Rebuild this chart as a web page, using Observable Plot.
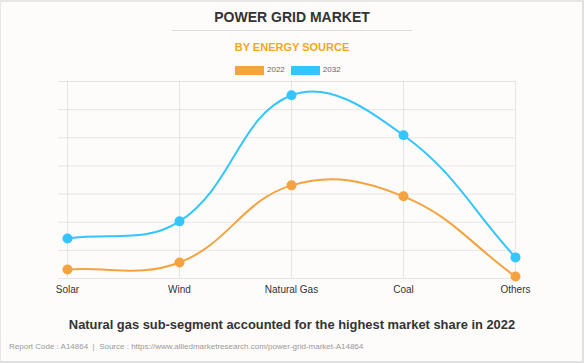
<!DOCTYPE html>
<html>
<head>
<meta charset="utf-8">
<script src="https://cdn.jsdelivr.net/npm/d3@7"></script>
<script src="https://cdn.jsdelivr.net/npm/@observablehq/plot@0.6"></script>
<style>
  html, body { margin: 0; padding: 0; background: #fff; }
  #frame { position: relative; width: 584px; height: 363px; background: #fdfcfb;
    font-family: "Liberation Sans", Arial, sans-serif; overflow: hidden; }
  #border { position: absolute; left: 0; top: 0; width: 584px; height: 363px; box-sizing: border-box;
    border-top: 2px solid #e6e6e6; border-left: 1px solid #e6e6e6; border-right: 2px solid #e0e0e0; border-bottom: 2px solid #e0e0e0; pointer-events: none; }
  .abs { position: absolute; }
  #title { left: 0; width: 584px; top: 9px; text-align: center; font-weight: bold; font-size: 14px; color: #333; line-height: 16px; }
  #rule { left: 172px; width: 240px; top: 30px; height: 1px; background: #dcdcdc; }
  #subtitle { left: 0; width: 584px; top: 41px; text-align: center; font-weight: bold; font-size: 11px; color: #f6a623; line-height: 13px; }
  #legend { left: 235px; top: 65px; display: flex; gap: 6px; font-size: 8px; color: #666; line-height: 10px; }
  .item { display: flex; align-items: center; gap: 3px; }
  .sw { width: 29px; height: 9px; }
  #chart { left: 0; top: 72px; }
  #caption { left: 0; width: 584px; top: 317px; text-align: center; font-weight: bold; font-size: 12.9px; color: #333; line-height: 16px; }
  #footer { left: 9px; top: 342px; font-size: 8px; color: #999; line-height: 10px; }
</style>
</head>
<body>
<div id="frame">
  <div id="title" class="abs">POWER GRID MARKET</div>
  <div id="rule" class="abs"></div>
  <div id="subtitle" class="abs">BY ENERGY SOURCE</div>
  <div id="legend" class="abs"></div>
  <div id="chart" class="abs"></div>
  <div id="caption" class="abs">Natural gas sub-segment accounted for the highest market share in 2022</div>
  <div id="footer" class="abs">Report Code : A14864&nbsp; |&nbsp; Source : https://www.alliedmarketresearch.com/power-grid-market-A14864</div>
  <div id="border"></div>
</div>
<script>
const categories = ["Solar", "Wind", "Natural Gas", "Coal", "Others"];
const years = ["2022", "2032"];
const values2022 = [3.2, 5.7, 33.1, 29.2, 0.7];
const values2032 = [14.2, 20.3, 65.1, 50.9, 7.5];
const colors = ["#f4a340", "#33c5ff"];
const yTicks = [0, 10, 20, 30, 40, 50, 60, 70];

const data = [];
categories.forEach((c, i) => {
  data.push({ category: c, year: years[0], value: values2022[i] });
  data.push({ category: c, year: years[1], value: values2032[i] });
});

// legend
const legend = document.getElementById("legend");
years.forEach((y, i) => {
  const it = document.createElement("div");
  it.className = "item";
  it.innerHTML = `<div class="sw" style="background:${colors[i]}"></div><span>${y}</span>`;
  legend.appendChild(it);
});

// Spline curve with tension (distance-weighted cubic), like the original's smoothing
function tensionSpline(context) {
  const t = 0.4;
  let pts;
  return {
    areaStart() {}, areaEnd() {},
    lineStart() { pts = []; },
    point(x, y) { pts.push([+x, +y]); },
    lineEnd() {
      const n = pts.length;
      if (!n) return;
      const cps = pts.map((p, i) => {
        const prev = pts[Math.max(0, i - 1)], next = pts[Math.min(n - 1, i + 1)];
        const d01 = Math.hypot(p[0] - prev[0], p[1] - prev[1]);
        const d12 = Math.hypot(next[0] - p[0], next[1] - p[1]);
        const sum = d01 + d12 || 1;
        const fa = t * d01 / sum, fb = t * d12 / sum;
        return {
          prev: [p[0] - fa * (next[0] - prev[0]), p[1] - fa * (next[1] - prev[1])],
          next: [p[0] + fb * (next[0] - prev[0]), p[1] + fb * (next[1] - prev[1])]
        };
      });
      context.moveTo(pts[0][0], pts[0][1]);
      for (let i = 1; i < n; i++) {
        const a = cps[i - 1].next, b = cps[i].prev;
        context.bezierCurveTo(a[0], a[1], b[0], b[1], pts[i][0], pts[i][1]);
      }
    }
  };
}

const chart = Plot.plot({
  width: 584,
  height: 226,
  marginTop: 9,
  marginBottom: 20,
  marginLeft: 66,
  marginRight: 69,
  style: { background: "transparent", fontFamily: "Liberation Sans, Arial, sans-serif" },
  x: { type: "point", domain: categories, padding: 0, label: null },
  y: { domain: [0, 70], axis: null },
  color: { domain: years, range: colors },
  marks: [
    Plot.ruleY(yTicks, { stroke: "#000", strokeOpacity: 0.09, insetLeft: -8 }),
    Plot.ruleX(categories, { stroke: "#000", strokeOpacity: 0.09 }),
    Plot.axisX({ tickSize: 0, tickPadding: 7, fontSize: 10, color: "#333", label: null }),
    Plot.line(data, { x: "category", y: "value", z: "year", stroke: "year", strokeWidth: 2, curve: tensionSpline }),
    Plot.dot(data, { x: "category", y: "value", fill: "year", r: 5 })
  ]
});
document.getElementById("chart").appendChild(chart);
</script>
</body>
</html>
